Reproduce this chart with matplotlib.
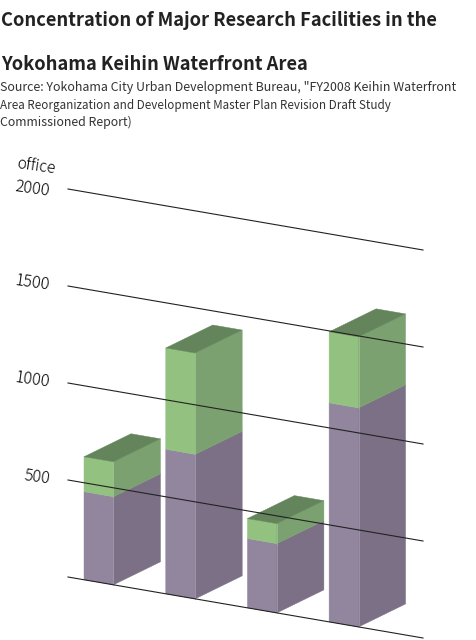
import matplotlib
matplotlib.use("Agg")
import matplotlib.pyplot as plt
from matplotlib.patches import Polygon

plt.rcParams['font.family'] = ['Noto Sans CJK JP', 'DejaVu Sans']

TITLE = ["Concentration of Major Research Facilities in the", "Yokohama Keihin Waterfront Area"]
SOURCE = ['Source: Yokohama City Urban Development Bureau, "FY2008 Keihin Waterfront',
          'Area Reorganization and Development Master Plan Revision Draft Study',
          'Commissioned Report)']
UNIT = "office"
GRID_VALUES = [0, 500, 1000, 1500, 2000]
TICK_LABELS = ["", "500", "1000", "1500", "2000"]
LOWER = [454, 745, 357, 1129]
TOTAL = [634, 1267, 460, 1495]

W, H = 477, 640
fig = plt.figure(figsize=(W / 100, H / 100), dpi=100, facecolor="white")
ax = fig.add_axes([0, 0, 1, 1])
ax.set_xlim(0, W)
ax.set_ylim(H, 0)
ax.axis("off")

# oblique projection
X0, Y0, SLOPE, PX_PER_UNIT = 68, 577, 61 / 355, 0.194
BAR_LEFT, BAR_STEP, BAR_W = 84, 81.7, 29.5
DEPTH = (47, -23)


def proj(x, value, depth=0):
    return (x + depth * DEPTH[0],
            Y0 + (x - X0) * SLOPE - value * PX_PER_UNIT + depth * DEPTH[1])


def box(x, v0, v1, front, side, top=None):
    l, r = x, x + BAR_W
    ax.add_patch(Polygon([proj(l, v0), proj(r, v0), proj(r, v1), proj(l, v1)],
                         fc=front, ec=front, lw=0.3, zorder=2))
    ax.add_patch(Polygon([proj(r, v0), proj(r, v0, 1), proj(r, v1, 1), proj(r, v1)],
                         fc=side, ec=side, lw=0.3, zorder=2))
    if top:
        ax.add_patch(Polygon([proj(l, v1), proj(r, v1), proj(r, v1, 1), proj(l, v1, 1)],
                             fc=top, ec=top, lw=0.3, zorder=2))


for i, (lo, tot) in enumerate(zip(LOWER, TOTAL)):
    x = BAR_LEFT + i * BAR_STEP
    box(x, 0, lo, "#92869E", "#7B7085")
    box(x, lo, tot, "#93C180", "#7AA16F", "#64855B")
    r = x + BAR_W
    xs, ys = zip(proj(r, 0), proj(r, lo))
    ax.plot(xs, ys, color="#A89EB2", lw=0.5, zorder=3)
    xs, ys = zip(proj(r, lo), proj(r, tot))
    ax.plot(xs, ys, color="#A0C892", lw=0.5, zorder=3)

for v, lab in zip(GRID_VALUES, TICK_LABELS):
    xs, ys = zip(proj(68, v), proj(423, v))
    ax.plot(xs, ys, color="#222222", lw=0.8, zorder=4)
    if lab:
        extra = 2 if v == 2000 else -1
        ax.text(50, proj(68, v)[1] + extra, lab, ha="right", va="center", fontsize=11.6,
                style="italic", rotation=-8, rotation_mode="anchor", color="#000000",
                fontweight="light")
ax.text(17, 164, UNIT, ha="left", va="center", fontsize=11.2, rotation=-8,
        rotation_mode="anchor", color="#000000", fontweight="light")

for line, y in zip(TITLE, [21, 64]):
    ax.text(1, y, line, ha="left", va="center", fontsize=13.2, fontweight="bold", color="#222222")
for line, y, fs in zip(SOURCE, [87.5, 105, 122], [8.95, 8.4, 8.9]):
    ax.text(0, y, line, ha="left", va="center", fontsize=fs, color="#333333")

fig.savefig("out.png", dpi=100)
